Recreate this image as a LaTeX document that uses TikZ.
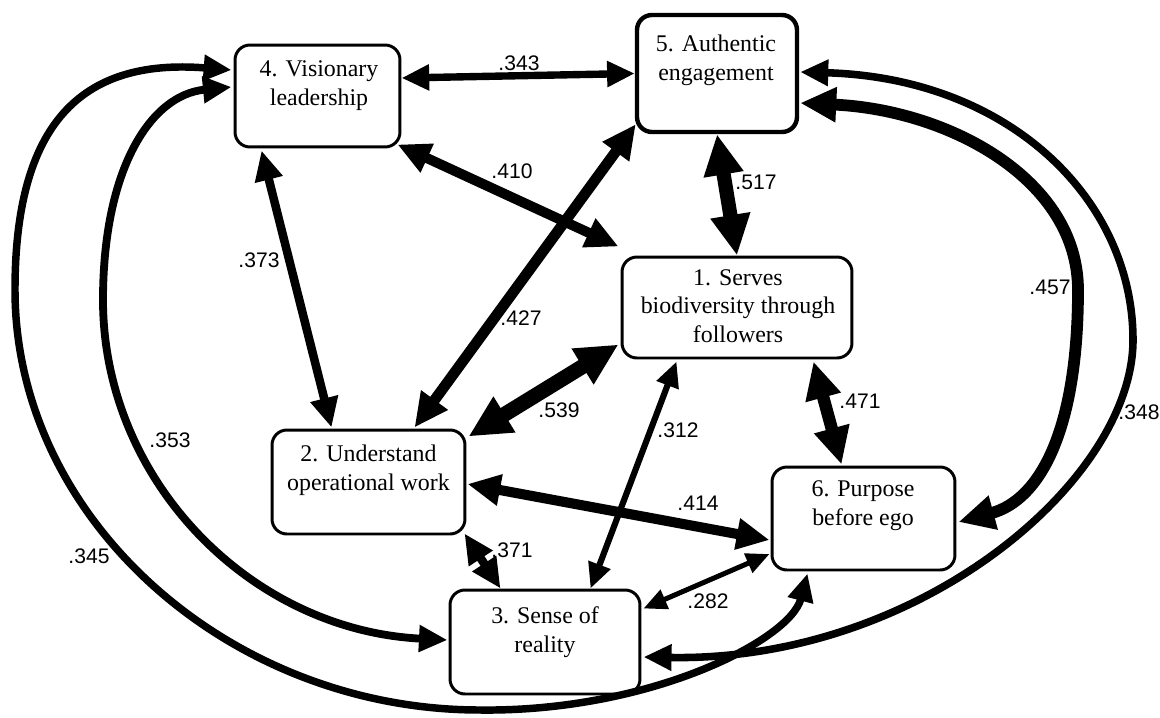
\documentclass[tikz,border=0pt]{standalone}
\usepackage{fontspec}
\setmainfont{Liberation Serif}
\newfontfamily\lblfont{Liberation Sans}
\usetikzlibrary{arrows.meta,calc}
\begin{document}
\begin{tikzpicture}[x=0.02cm,y=-0.02cm,
  box/.style={draw, line width=1.7pt, rounded corners=8.5pt, fill=white, inner sep=0pt},
  txt/.style={align=center, font=\fontsize{13.6}{16.2}\selectfont, inner sep=0pt, anchor=base},
  lbl/.style={font=\lblfont\fontsize{12}{14}\selectfont, inner sep=0pt},
  ht/.tip={Triangle[length=7.8pt 1.9, width=6pt 1.9]},
  con/.style={line width=#1, arrows={ht-ht}},
]
\useasboundingbox (0,0) rectangle (1160,717);

% boxes
\node[box, minimum width=3.3cm, minimum height=2.04cm] (b4) at (317.5,96) {};
\node[box, line width=2.5pt, minimum width=3.2cm, minimum height=2.34cm] (b5) at (717,73.5) {};
\node[box, minimum width=4.6cm, minimum height=2.02cm] (b1) at (737,307.5) {};
\node[box, minimum width=3.86cm, minimum height=2.08cm] (b2) at (368.5,482) {};
\node[box, minimum width=3.66cm, minimum height=2.06cm] (b6) at (863.5,518.5) {};
\node[box, minimum width=3.8cm, minimum height=2.08cm] (b3) at (545,642) {};

% box texts (anchor = baseline of the last line)
\node[txt] (t4) at (319,105) {4. Visionary\\leadership};
\node[txt] (t5) at (716,80) {5. Authentic\\engagement};
\node[txt] (t1) at (738,342) {1. Serves\\biodiversity through\\followers};
\node[txt] (t2) at (368.5,490) {2. Understand\\operational work};
\node[txt] (t6) at (863,525) {6. Purpose\\before ego};
\node[txt] (t3) at (545,652) {3. Sense of\\reality};

% straight connectors
\draw[con=4.2pt] ($(b4.east)+(0,-18)$) -- (b5.west);
\draw[con=5.7pt] ($(b4.south east)+(-4,-4)$) -- ($(b1.north west)+(-2,-9)$);
\draw[con=6.1pt] ($(b2.north east)+(-52,-1)$) -- ($(b5.south west)+(1,-10)$);
\draw[con=8.1pt] (b5.south) -- (b1.north);
\draw[con=4.85pt] ($(b4.south west)+(28,2)$) -- ($(b2.north west)+(61,-1)$);
\draw[con=8.55pt] ($(b2.north east)+(2,8)$) -- ($(b1.south west)+(-2,-15)$);
\draw[con=3.5pt] ($(b1.south west)+(56,2)$) -- ($(b3.north west)+(142,0)$);
\draw[con=7.05pt] ($(b1.south east)+(-40,2)$) -- ($(b6.north west)+(71,-1)$);
\draw[con=5.75pt] ($(b2.east)+(1,2)$) -- ($(b6.west)+(-1,21.5)$);
\draw[con=4.85pt] ($(b2.south east)+(-2,-2)$) -- ($(b3.north west)+(52,0)$);
\draw[con=2.85pt] ($(b3.north east)+(2,20)$) -- ($(b6.west)+(-1,35.5)$);

% curved connectors
\draw[con=4.25pt] ($(b4.west)+(-2,-26)$) .. controls (80,58) and (15,125) .. (15,290)
   .. controls (15,520) and (230,710) .. (480,710)
   .. controls (650,712) and (790,640) .. ($(b6.south west)+(37,2)$);
\draw[con=4.45pt] ($(b4.west)+(-2,-9)$) .. controls (150,95) and (103,170) .. (103,300)
   .. controls (103,480) and (250,630) .. ($(b3.west)+(-1,-2)$);
\draw[con=6.7pt] ($(b5.east)+(1,29.5)$) .. controls (950,110) and (1078,180) .. (1078,290)
   .. controls (1078,430) and (1040,500) .. ($(b6.east)+(2,3.5)$);
\draw[con=4.3pt] ($(b5.east)+(1,-1.5)$) .. controls (1010,78) and (1133,200) .. (1133,340)
   .. controls (1133,480) and (920,662) .. ($(b3.east)+(2,15)$);

% labels
\node[lbl] (l343) at (519,63) {.343};
\node[lbl] (l410) at (512,171) {.410};
\node[lbl] (l517) at (756,182) {.517};
\node[lbl] (l373) at (259,260) {.373};
\node[lbl] (l427) at (521,318) {.427};
\node[lbl] (l457) at (1050,287) {.457};
\node[lbl] (l539) at (559,410) {.539};
\node[lbl] (l312) at (678,430) {.312};
\node[lbl] (l471) at (860,401) {.471};
\node[lbl] (l353) at (170,440) {.353};
\node[lbl] (l348) at (1139,412) {.348};
\node[lbl] (l414) at (698,503) {.414};
\node[lbl] (l371) at (512,550) {.371};
\node[lbl] (l345) at (89,556) {.345};
\node[lbl] (l282) at (708,601) {.282};
\end{tikzpicture}
\end{document}
